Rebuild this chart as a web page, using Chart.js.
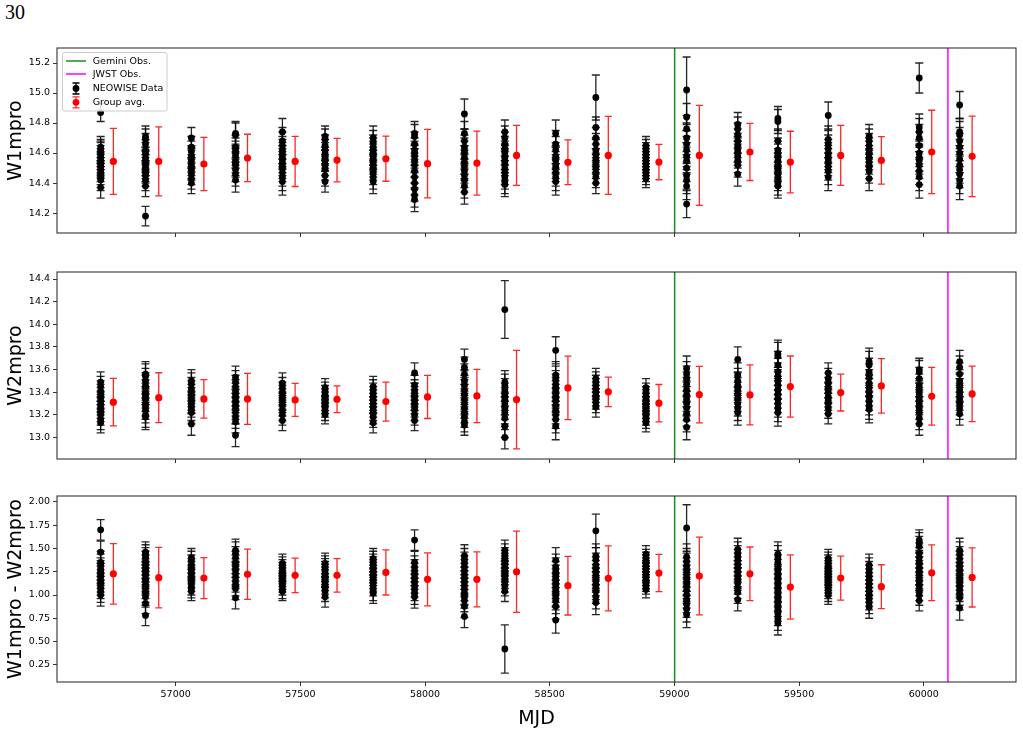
<!DOCTYPE html>
<html>
<head>
<meta charset="utf-8">
<script src="https://cdn.jsdelivr.net/npm/chart.js@4.4.1/dist/chart.umd.min.js"></script>
<style>
body{margin:0;background:#fff;width:1023px;height:736px;overflow:hidden;position:relative}
canvas{position:absolute;left:0}
#page{position:absolute;left:5px;top:1px;font-family:"Liberation Serif",serif;font-size:20px;color:#000}
</style>
</head>
<body>
<div id="page">30</div>
<canvas id="c1" width="1023" height="250" style="top:0px"></canvas>
<canvas id="c2" width="1023" height="225" style="top:250px"></canvas>
<canvas id="c3" width="1023" height="261" style="top:475px"></canvas>
<script>

// epochs (MJD) of the NEOWISE visits and of the plotted group averages
const groupMjd = [56699,56879,57063,57240,57428,57599,57792,57958,58158,58320,58524,58685,58886,59049,59254,59415,59617,59781,59982,60144]
const avgMjd = [56750,56932,57113,57288,57479,57647,57843,58010,58208,58367,58573,58735,58938,59100,59303,59465,59667,59830,60032,60194]

const geminiMjd = 59001
const jwstMjd = 60097

const xTicks = [57000,57500,58000,58500,59000,59500,60000]
const w1Ticks = [14.2,14.4,14.6,14.8,15.0,15.2]
const w2Ticks = [13.0,13.2,13.4,13.6,13.8,14.0,14.2,14.4]
const w3Ticks = [0.25,0.50,0.75,1.00,1.25,1.50,1.75,2.00]

const legendLabels = ["Gemini Obs.","JWST Obs.","NEOWISE Data","Group avg."]

// W1mpro single exposures per visit
const w1Groups = [
[14.64,14.62,14.61,14.60,14.58,14.56,14.54,14.53,14.52,14.50,14.48,14.46,14.44,14.42,14.37],
[14.71,14.69,14.66,14.62,14.60,14.57,14.55,14.54,14.52,14.50,14.48,14.47,14.45,14.42,14.38],
[14.70,14.64,14.61,14.58,14.57,14.55,14.52,14.50,14.49,14.46,14.43,14.40],
[14.73,14.72,14.64,14.62,14.60,14.58,14.55,14.53,14.52,14.49,14.46,14.42],
[14.74,14.68,14.65,14.62,14.60,14.58,14.56,14.54,14.52,14.50,14.47,14.44,14.41],
[14.71,14.69,14.65,14.62,14.60,14.57,14.55,14.52,14.49,14.45,14.41],
[14.70,14.67,14.64,14.62,14.60,14.58,14.56,14.54,14.52,14.50,14.47,14.44,14.41],
[14.73,14.71,14.66,14.62,14.60,14.58,14.55,14.52,14.48,14.44,14.40,14.36,14.32,14.29],
[14.73,14.68,14.64,14.62,14.60,14.57,14.54,14.51,14.48,14.45,14.42,14.38,14.34],
[14.74,14.70,14.66,14.63,14.60,14.57,14.55,14.53,14.50,14.47,14.44,14.41,14.39],
[14.73,14.66,14.62,14.58,14.56,14.55,14.52,14.50,14.47,14.44,14.41],
[14.77,14.70,14.66,14.62,14.59,14.56,14.53,14.50,14.47,14.44,14.40],
[14.65,14.63,14.61,14.59,14.57,14.55,14.53,14.51,14.49,14.47,14.45,14.43],
[14.84,14.76,14.70,14.66,14.62,14.58,14.55,14.50,14.45,14.42,14.38,14.26],
[14.79,14.76,14.72,14.68,14.65,14.62,14.60,14.58,14.55,14.52,14.46],
[14.83,14.81,14.68,14.62,14.60,14.58,14.55,14.52,14.50,14.49,14.46,14.43,14.40,14.38],
[14.69,14.66,14.63,14.60,14.58,14.56,14.54,14.51,14.48,14.44],
[14.71,14.68,14.65,14.62,14.60,14.57,14.54,14.51,14.48,14.43],
[14.77,14.74,14.70,14.65,14.60,14.57,14.55,14.52,14.48,14.44,14.39],
[14.74,14.72,14.68,14.64,14.60,14.56,14.52,14.49,14.46,14.42,14.38]
]
const w1Err = [0.07,0.07,0.07,0.08,0.09,0.07,0.08,0.08,0.08,0.08,0.09,0.07,0.06,0.09,0.08,0.08,0.09,0.08,0.09,0.09]
const w1OutMjd = [56699,56879,58158,58685,59049,59617,59982,60144]
const w1OutVal = [14.87,14.18,14.86,14.97,15.02,14.85,15.10,14.92]
const w1OutErr = [0.06,0.065,0.10,0.15,0.22,0.09,0.10,0.09]
const w1Avg = [14.544,14.544,14.527,14.567,14.544,14.553,14.562,14.529,14.533,14.584,14.538,14.584,14.540,14.584,14.607,14.540,14.584,14.551,14.607,14.578]
const w1AvgErr = [0.22,0.23,0.177,0.158,0.167,0.145,0.15,0.228,0.213,0.2,0.149,0.26,0.118,0.333,0.19,0.205,0.2,0.158,0.278,0.268]

// W2mpro single exposures per visit
const w2Groups = [
[13.49,13.45,13.41,13.38,13.35,13.32,13.29,13.26,13.23,13.20,13.16,13.13],
[13.56,13.54,13.50,13.46,13.44,13.40,13.37,13.34,13.30,13.27,13.24,13.20,13.18],
[13.50,13.47,13.43,13.40,13.37,13.34,13.31,13.28,13.25,13.22,13.12],
[13.53,13.49,13.45,13.41,13.38,13.35,13.32,13.29,13.26,13.22,13.18,13.14,13.02],
[13.48,13.44,13.40,13.37,13.34,13.31,13.28,13.24,13.20,13.15],
[13.44,13.41,13.38,13.35,13.32,13.29,13.26,13.23,13.20],
[13.45,13.42,13.39,13.36,13.33,13.30,13.27,13.24,13.21,13.18,13.13],
[13.57,13.46,13.42,13.39,13.36,13.33,13.30,13.27,13.24,13.20,13.15],
[13.69,13.62,13.56,13.50,13.46,13.42,13.38,13.34,13.30,13.26,13.22,13.18,13.14,13.11],
[13.49,13.46,13.42,13.38,13.34,13.30,13.26,13.22,13.17,13.10,13.00],
[13.77,13.55,13.51,13.47,13.44,13.41,13.38,13.35,13.32,13.28,13.24,13.20,13.16,13.10],
[13.52,13.49,13.46,13.43,13.40,13.37,13.34,13.31,13.27],
[13.44,13.40,13.37,13.34,13.31,13.28,13.25,13.22,13.19,13.16,13.13],
[13.61,13.56,13.52,13.47,13.42,13.38,13.34,13.30,13.26,13.21,13.16,13.09],
[13.69,13.55,13.50,13.46,13.42,13.38,13.34,13.30,13.26,13.22],
[13.74,13.72,13.64,13.58,13.54,13.50,13.46,13.42,13.38,13.34,13.30,13.26,13.22],
[13.57,13.52,13.48,13.44,13.40,13.36,13.33,13.30,13.26,13.21],
[13.67,13.64,13.58,13.53,13.48,13.44,13.40,13.36,13.32,13.28,13.25],
[13.60,13.58,13.52,13.46,13.42,13.38,13.34,13.30,13.26,13.22,13.17,13.12],
[13.67,13.62,13.56,13.50,13.46,13.42,13.38,13.34,13.30,13.26,13.21]
]
const w2Err = [0.09,0.11,0.10,0.10,0.09,0.08,0.09,0.09,0.09,0.10,0.12,0.09,0.08,0.11,0.11,0.12,0.09,0.12,0.10,0.10]
const w2OutMjd = [58320]
const w2OutVal = [14.13]
const w2OutErr = [0.255]
const w2Avg = [13.312,13.352,13.341,13.341,13.332,13.338,13.317,13.358,13.367,13.335,13.438,13.403,13.303,13.379,13.376,13.450,13.397,13.456,13.364,13.385]
const w2AvgErr = [0.21,0.22,0.17,0.225,0.146,0.118,0.172,0.19,0.235,0.435,0.28,0.13,0.165,0.25,0.265,0.27,0.163,0.24,0.255,0.245]

// W1mpro - W2mpro colour per visit
const w3Groups = [
[1.46,1.35,1.32,1.28,1.25,1.22,1.19,1.15,1.12,1.08,1.04,1.00],
[1.46,1.43,1.40,1.36,1.32,1.28,1.25,1.22,1.18,1.15,1.11,1.07,1.03,0.98,0.91,0.78],
[1.40,1.37,1.33,1.29,1.26,1.22,1.18,1.14,1.10,1.07,1.04],
[1.48,1.45,1.40,1.35,1.31,1.27,1.23,1.19,1.15,1.11,1.07,0.97],
[1.34,1.31,1.28,1.25,1.22,1.19,1.16,1.13,1.10,1.06,1.04],
[1.34,1.31,1.28,1.25,1.22,1.19,1.16,1.12,1.08,1.04,0.98],
[1.39,1.36,1.33,1.30,1.27,1.24,1.21,1.18,1.14,1.10,1.05,1.02],
[1.35,1.30,1.26,1.22,1.18,1.14,1.10,1.06,1.02,0.98],
[1.42,1.38,1.34,1.30,1.26,1.22,1.18,1.14,1.10,1.06,1.02,0.98,0.94,0.88,0.77],
[1.48,1.44,1.40,1.37,1.34,1.31,1.28,1.25,1.22,1.18,1.14,1.10,1.04],
[1.37,1.30,1.26,1.22,1.18,1.14,1.10,1.06,1.02,0.98,0.94,0.88,0.73],
[1.42,1.38,1.32,1.28,1.24,1.20,1.16,1.12,1.08,1.04,0.98,0.92],
[1.44,1.40,1.37,1.34,1.31,1.28,1.25,1.22,1.19,1.16,1.13,1.10,1.06],
[1.41,1.36,1.31,1.26,1.22,1.18,1.14,1.10,1.05,1.00,0.95,0.90,0.85,0.79],
[1.49,1.45,1.41,1.37,1.33,1.29,1.25,1.21,1.17,1.13,1.08,1.03,0.95],
[1.44,1.40,1.35,1.30,1.25,1.20,1.15,1.10,1.05,1.00,0.95,0.90,0.85,0.80,0.75,0.70],
[1.39,1.36,1.33,1.30,1.27,1.24,1.21,1.18,1.15,1.12,1.09,1.06,1.03,1.00],
[1.32,1.28,1.24,1.20,1.16,1.12,1.08,1.04,1.00,0.96,0.92,0.87],
[1.59,1.56,1.52,1.45,1.40,1.35,1.30,1.26,1.22,1.18,1.14,1.10,1.05,1.00,0.94],
[1.48,1.44,1.39,1.34,1.30,1.26,1.22,1.18,1.14,1.10,1.06,1.02,0.97,0.86]
]
const w3Err = [0.12,0.11,0.10,0.12,0.10,0.11,0.11,0.12,0.12,0.11,0.14,0.13,0.09,0.14,0.12,0.13,0.10,0.12,0.11,0.13]
const w3OutMjd = [56699,57958,58320,58685,59049]
const w3OutVal = [1.70,1.59,0.42,1.69,1.72]
const w3OutErr = [0.11,0.11,0.26,0.18,0.25]
const w3Avg = [1.228,1.186,1.182,1.222,1.211,1.211,1.243,1.168,1.168,1.25,1.10,1.179,1.236,1.204,1.228,1.086,1.182,1.089,1.239,1.189]
const w3AvgErr = [0.325,0.325,0.22,0.27,0.186,0.18,0.243,0.285,0.296,0.436,0.315,0.35,0.2,0.418,0.288,0.346,0.236,0.236,0.30,0.318]


Chart.defaults.font.family = "'DejaVu Sans', sans-serif"

const GREEN = "#1a8c1a"
const MAGENTA = "#ff00ff"


// build point lists
function neowisePoints(groups, errs, outMjd, outVal, outErr){
const pts = []
groups.forEach((g,i)=>{
g.forEach(v=>pts.push({x:groupMjd[i], y:v, e:errs[i]}))
})
outMjd.forEach((m,i)=>pts.push({x:m, y:outVal[i], e:outErr[i]}))
return pts
}

function avgPoints(vals, errs){
return vals.map((v,i)=>({x:avgMjd[i], y:v, e:errs[i]}))
}


// error bars drawn just before each dataset's markers
const errorBars = {
id:"errorBars",
beforeDatasetDraw(chart, args){
const ds = chart.data.datasets[args.index]
if(!ds.errColor) return
const ctx = chart.ctx
const xs = chart.scales.x
const ys = chart.scales.y
const a = chart.chartArea
ctx.save()
ctx.beginPath()
ctx.rect(a.left, a.top, a.right-a.left, a.bottom-a.top)
ctx.clip()
ctx.strokeStyle = ds.errColor
ctx.lineWidth = 1.3
ds.data.forEach(p=>{
const x = xs.getPixelForValue(p.x)
const y1 = ys.getPixelForValue(p.y - p.e)
const y2 = ys.getPixelForValue(p.y + p.e)
ctx.beginPath()
ctx.moveTo(x, y1); ctx.lineTo(x, y2)
ctx.moveTo(x-ds.cap, y1); ctx.lineTo(x+ds.cap, y1)
ctx.moveTo(x-ds.cap, y2); ctx.lineTo(x+ds.cap, y2)
ctx.stroke()
})
ctx.restore()
}
}


// axes box
const frame = {
id:"frame",
afterDraw(chart){
const a = chart.chartArea
const ctx = chart.ctx
ctx.save()
ctx.strokeStyle = "#333"
ctx.lineWidth = 1.1
ctx.strokeRect(a.left, a.top, a.right-a.left, a.bottom-a.top)
ctx.restore()
}
}


// matplotlib style legend in the upper left corner
const mplLegend = {
id:"mplLegend",
afterDraw(chart){
const ctx = chart.ctx
const a = chart.chartArea
const x0 = a.left + 5.5
const y0 = a.top + 4.5
ctx.save()
ctx.fillStyle = "rgba(255,255,255,0.85)"
ctx.strokeStyle = "#cccccc"
ctx.lineWidth = 1
ctx.beginPath()
ctx.roundRect(x0, y0, 104.5, 58.5, 2)
ctx.fill()
ctx.stroke()

const rows = [61, 74, 88.5, 102.3]
const hx = 76
ctx.lineWidth = 1.5
ctx.strokeStyle = GREEN
ctx.beginPath(); ctx.moveTo(66, rows[0]); ctx.lineTo(86, rows[0]); ctx.stroke()
ctx.strokeStyle = MAGENTA
ctx.beginPath(); ctx.moveTo(66, rows[1]); ctx.lineTo(86, rows[1]); ctx.stroke()

const marks = [["#000", rows[2]], ["rgba(255,0,0,0.85)", rows[3]]]
marks.forEach(([c, y], k)=>{
ctx.strokeStyle = c
ctx.lineWidth = 1.3
ctx.beginPath()
ctx.moveTo(hx, y-5.5); ctx.lineTo(hx, y+5.5)
ctx.moveTo(hx-3.5, y-5.5); ctx.lineTo(hx+3.5, y-5.5)
ctx.moveTo(hx-3.5, y+5.5); ctx.lineTo(hx+3.5, y+5.5)
ctx.stroke()
ctx.fillStyle = k === 0 ? "#000" : "#ff0000"
ctx.beginPath(); ctx.arc(hx, y, 3.4, 0, Math.PI*2); ctx.fill()
})

ctx.fillStyle = "#000"
ctx.font = "9.5px 'DejaVu Sans'"
ctx.textBaseline = "middle"
legendLabels.forEach((t,i)=>ctx.fillText(t, 92.7, rows[i]+0.5))
ctx.restore()
}
}


function vline(mjd, color, yMin, yMax){
return {
data:[{x:mjd, y:yMin},{x:mjd, y:yMax}],
showLine:true,
borderColor:color,
borderWidth:1.5,
pointRadius:0
}
}


function makeChart(id, p){

const datasets = [
vline(geminiMjd, GREEN, p.yMin, p.yMax),
vline(jwstMjd, MAGENTA, p.yMin, p.yMax),
{
data: p.black,
backgroundColor:"#000",
borderWidth:0,
pointRadius:3.4,
errColor:"rgba(0,0,0,0.85)",
cap:4
},
{
data: p.red,
backgroundColor:"#ff0000",
borderWidth:0,
pointRadius:3.6,
errColor:"rgba(255,0,0,0.85)",
cap:3.5
}
]

// later datasets are drawn on top
datasets.forEach((d,i)=>{ d.order = datasets.length - i })

const plugins = [errorBars, frame]
if(p.legend) plugins.push(mplLegend)

return new Chart(document.getElementById(id),{
type:"scatter",
data:{datasets:datasets},
options:{
responsive:false,
animation:false,
devicePixelRatio:1,
events:[],
layout:{padding:{top:p.padTop, left:0, right:7, bottom:0}},
plugins:{legend:{display:false}, tooltip:{enabled:false}},
scales:{
x:{
type:"linear",
min:56524,
max:60370,
afterBuildTicks:s=>{ s.ticks = xTicks.map(v=>({value:v})) },
afterFit:s=>{ s.height = p.xHeight },
grid:{drawOnChartArea:false, tickLength:4, color:"#333", lineWidth:1},
border:{display:false},
ticks:{
display:p.xLabels,
autoSkip:false,
maxRotation:0,
padding:3,
color:"#000",
font:{size:9.5},
callback:v=>String(v)
},
title:{
display:p.xLabels,
text:"MJD",
color:"#000",
font:{size:19, lineHeight:1.2},
padding:{top:0, bottom:6}
}
},
y:{
type:"linear",
min:p.yMin,
max:p.yMax,
afterBuildTicks:s=>{ s.ticks = p.yTicks.map(v=>({value:v})) },
afterFit:s=>{ s.width = 57 },
grid:{drawOnChartArea:false, tickLength:4, color:"#333", lineWidth:1},
border:{display:false},
ticks:{
autoSkip:false,
padding:3,
color:"#000",
font:{size:9.5},
callback:v=>Number(v).toFixed(p.digits)
},
title:{
display:true,
text:p.yTitle,
color:"#000",
font:{size:19, lineHeight:1.2},
padding:{top:5, bottom:0}
}
}
}
},
plugins:plugins
})
}


makeChart("c1",{
black:neowisePoints(w1Groups, w1Err, w1OutMjd, w1OutVal, w1OutErr),
red:avgPoints(w1Avg, w1AvgErr),
yMin:14.067, yMax:15.30, yTicks:w1Ticks, digits:1,
yTitle:"W1mpro", padTop:48, xHeight:17, xLabels:false, legend:true
})

makeChart("c2",{
black:neowisePoints(w2Groups, w2Err, w2OutMjd, w2OutVal, w2OutErr),
red:avgPoints(w2Avg, w2AvgErr),
yMin:12.81, yMax:14.462, yTicks:w2Ticks, digits:1,
yTitle:"W2mpro", padTop:22, xHeight:16, xLabels:false, legend:false
})

makeChart("c3",{
black:neowisePoints(w3Groups, w3Err, w3OutMjd, w3OutVal, w3OutErr),
red:avgPoints(w3Avg, w3AvgErr),
yMin:0.065, yMax:2.064, yTicks:w3Ticks, digits:2,
yTitle:"W1mpro - W2mpro", padTop:21, xHeight:54, xLabels:true, legend:false
})

</script>
</body>
</html>
